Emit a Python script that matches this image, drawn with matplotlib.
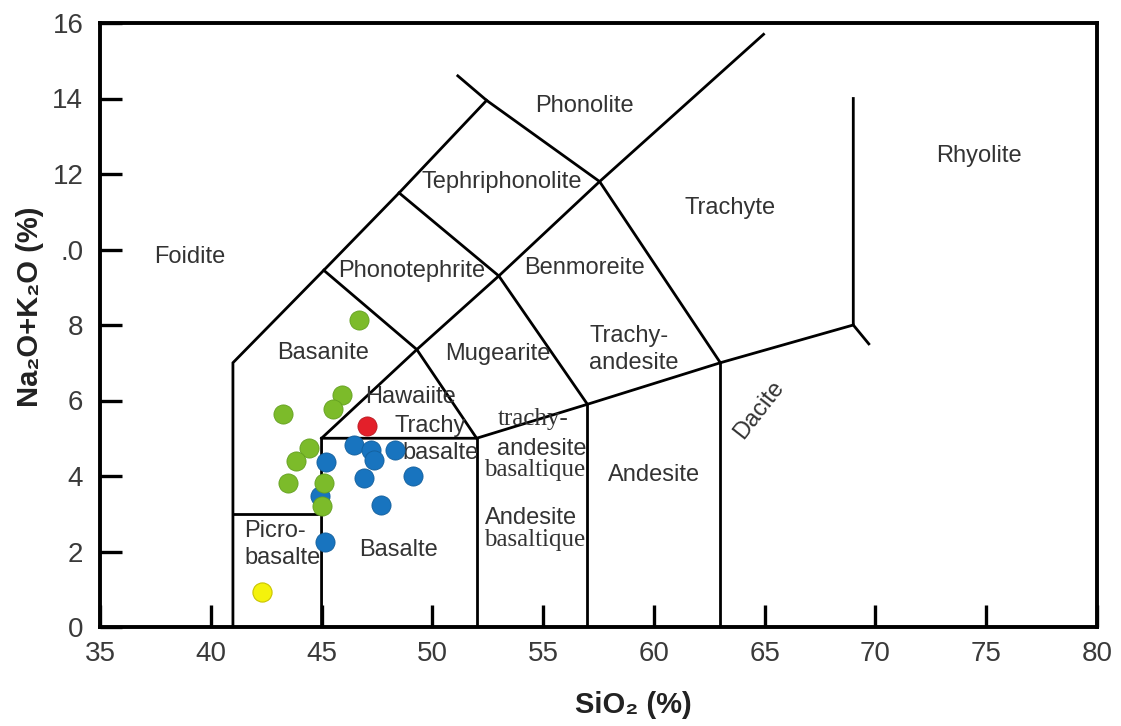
import matplotlib.pyplot as plt

plt.rcParams['font.family'] = ['Liberation Sans', 'DejaVu Sans']

# TAS field boundaries, SiO2 (x) vs Na2O+K2O (y)
left_x = [41, 41, 45.1, 48.5, 52.45]
left_y = [0, 7, 9.45, 11.5, 13.95]
phono_x = [51.15, 52.45, 57.55, 63]
phono_y = [14.6, 13.95, 11.8, 7]
diag_x = [45, 49.3, 53, 57.55, 64.95]
diag_y = [5, 7.35, 9.3, 11.8, 15.7]
basan_x = [45.1, 49.3, 52]
basan_y = [9.45, 7.35, 5]
tephr_x = [48.5, 53, 57]
tephr_y = [11.5, 9.3, 5.9]
low_x = [45, 45, 52, 57, 63, 69]
low_y = [0, 5, 5, 5.9, 7, 8]
rhyo_x = [69, 69, 69.7]
rhyo_y = [14, 8, 7.5]
picro_x = [41, 45]
picro_y = [3, 3]
vert_x = [52, 57, 63]
vert_top = [5, 5.9, 7]

# samples
green_x = [46.67, 45.93, 45.53, 43.27, 44.43, 43.85, 43.48, 45.10, 45.03]
green_y = [8.12, 6.15, 5.77, 5.64, 4.74, 4.40, 3.81, 3.81, 3.21]
blue_x = [45.18, 46.46, 47.22, 47.37, 48.30, 46.92, 49.13, 47.67, 44.95, 45.14]
blue_y = [4.38, 4.83, 4.69, 4.43, 4.69, 3.96, 3.99, 3.24, 3.46, 2.25]
red_x, red_y = [47.07], [5.33]
yellow_x, yellow_y = [42.32], [0.94]

# field names: (text, x, y, serif)
names = [
    ('Foidite', 39.07, 9.79, False),
    ('Basanite', 45.07, 7.26, False),
    ('Basalte', 48.48, 2.04, False),
    ('Hawaiite', 49.0, 6.1, False),
    ('Trachy', 49.9, 5.33, False),
    ('basalte', 50.38, 4.6, False),
    ('trachy-', 54.55, 5.5, True),
    ('andesite', 54.95, 4.72, False),
    ('basaltique', 54.6, 4.16, True),
    ('Andesite', 54.46, 2.89, False),
    ('basaltique', 54.6, 2.31, True),
    ('Phonotephrite', 49.07, 9.42, False),
    ('Tephriphonolite', 53.14, 11.78, False),
    ('Phonolite', 56.85, 13.8, False),
    ('Benmoreite', 56.85, 9.52, False),
    ('Mugearite', 52.96, 7.24, False),
    ('Trachy-', 58.9, 7.72, False),
    ('andesite', 59.07, 7.0, False),
    ('Andesite', 60.02, 4.03, False),
    ('Trachyte', 63.46, 11.09, False),
    ('Rhyolite', 74.68, 12.47, False),
]

fig = plt.figure(figsize=(11.21, 7.26), dpi=100)
ax = fig.add_axes([100/1121, 99/726, 997/1121, 604/726])

lw = 2.0
for xs, ys in [(left_x, left_y), (phono_x, phono_y), (diag_x, diag_y),
               (basan_x, basan_y), (tephr_x, tephr_y), (low_x, low_y),
               (rhyo_x, rhyo_y), (picro_x, picro_y)]:
    ax.plot(xs, ys, color='black', lw=lw, solid_joinstyle='miter')
for vx, vt in zip(vert_x, vert_top):
    ax.plot([vx, vx], [0, vt], color='black', lw=lw)

ax.scatter(blue_x, blue_y, s=190, c='#1874bf', edgecolors='#135f9c', linewidths=0.6, zorder=3)
ax.scatter(green_x, green_y, s=190, c='#7cbb2a', edgecolors='#63a020', linewidths=0.6, zorder=4)
ax.scatter(red_x, red_y, s=190, c='#e3202a', edgecolors='#b81820', linewidths=0.6, zorder=4)
ax.scatter(yellow_x, yellow_y, s=190, c='#f4f20c', edgecolors='#c9c400', linewidths=0.8, zorder=4)

for txt, x, y, serif in names:
    if serif:
        ax.text(x, y, txt, ha='center', va='center', fontsize=18, color='#333333',
                family=['Liberation Serif', 'DejaVu Serif'], zorder=2)
    else:
        ax.text(x, y, txt, ha='center', va='center', fontsize=17, color='#333333',
                zorder=2)
ax.text(41.5, 2.55, 'Picro-', ha='left', va='center', fontsize=17, color='#333333')
ax.text(41.5, 1.83, 'basalte', ha='left', va='center', fontsize=17, color='#333333')
ax.text(64.73, 5.76, 'Dacite', ha='center', va='center', fontsize=17, color='#333333',
        rotation=52)

ax.set_xlim(35, 80)
ax.set_ylim(0, 16)
ax.set_xticks(range(35, 81, 5))
ax.set_yticks(range(0, 17, 2))
ax.set_yticklabels(['0', '2', '4', '6', '8', '.0', '12', '14', '16'])
ax.tick_params(direction='in', length=16, width=2.4, color='black',
               labelsize=20, labelcolor='#3a3a3a', pad=10)
ax.tick_params(axis='y', pad=12)
for sp in ax.spines.values():
    sp.set_linewidth(2.8)

fig.text(633/1121, 1 - 705/726, 'SiO₂ (%)', ha='center', va='center',
         fontsize=21, fontweight='bold', color='#222222')
fig.text(30/1121, 1 - 307/726, 'Na₂O+K₂O (%)', ha='center', va='center',
         fontsize=21, fontweight='bold', color='#222222', rotation=90)

fig.savefig('out.png', dpi=100)
